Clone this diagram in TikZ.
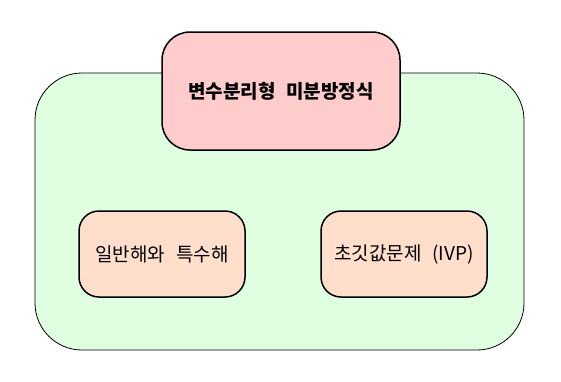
\documentclass[tikz,border=0pt]{standalone}
\usepackage{fontspec}
\setmainfont{Noto Sans CJK KR}[WordSpace=2.5]
\definecolor{groupfill}{RGB}{224,255,224}
\definecolor{headfill}{RGB}{255,204,204}
\definecolor{partfill}{RGB}{255,222,204}

\begin{document}
\begin{tikzpicture}[x=1pt,y=-1pt,
		group/.style={draw,line width=0.8pt,fill=groupfill,rounded corners=47pt,minimum width=489pt,minimum height=277pt},
		head/.style={draw,line width=1.5pt,fill=headfill,rounded corners=28pt,minimum width=238pt,minimum height=118pt,font=\fontsize{19}{22}\selectfont\bfseries},
		part/.style={draw,line width=1.5pt,fill=partfill,rounded corners=20pt,minimum width=166pt,minimum height=86pt,font=\fontsize{19}{22}\selectfont}]
	\useasboundingbox (0,0) rectangle (561,381);
		\node[group] (sepgroup) at (279.5,211.5) {};
		\node[head] (separable) at (281,91) {변수분리형 미분방정식};
		\node[part] (gensol) at (162,254) {일반해와 특수해};
		\node[part] (ivp) at (404,254) {초깃값문제 (IVP)};
	\end{tikzpicture}
\end{document}
